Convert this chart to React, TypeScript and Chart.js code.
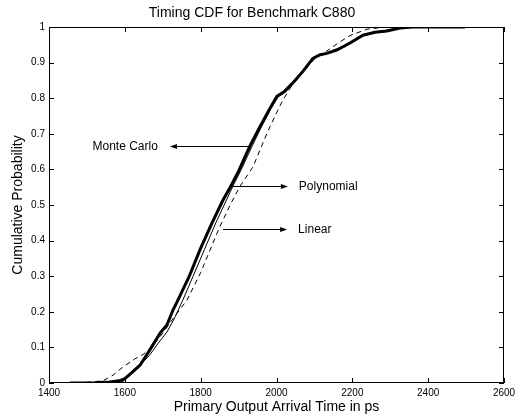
import React, { useEffect, useRef } from 'react';
import { Chart, registerables } from 'chart.js';

Chart.register(...registerables);

// ---- data ----
const mcX = [1455, 1520, 1560, 1585, 1600, 1619, 1640, 1666, 1693, 1711, 1727, 1740, 1770, 1798, 1830, 1859, 1878, 1900, 1930, 1956, 1983, 2001, 2020, 2043, 2070, 2096, 2115, 2133, 2160, 2194, 2228, 2260, 2291, 2326, 2360, 2497];
const mcY = [0, 0.001, 0.003, 0.006, 0.012, 0.03, 0.05, 0.093, 0.14, 0.163, 0.205, 0.233, 0.3, 0.374, 0.45, 0.514, 0.55, 0.595, 0.666, 0.719, 0.772, 0.805, 0.818, 0.843, 0.876, 0.912, 0.922, 0.926, 0.936, 0.955, 0.977, 0.985, 0.989, 0.997, 1, 1];

const polyX = [1460, 1560, 1595, 1609, 1622, 1645, 1666, 1688, 1711, 1730, 1753, 1780, 1810, 1840, 1868, 1885, 1905, 1936, 1960, 1986, 2005, 2024, 2046, 2072, 2098, 2115, 2133, 2160, 2194, 2228, 2260, 2291, 2326, 2360, 2497];
const polyY = [0, 0.001, 0.004, 0.017, 0.031, 0.056, 0.079, 0.112, 0.143, 0.18, 0.233, 0.3, 0.375, 0.45, 0.514, 0.553, 0.595, 0.666, 0.719, 0.772, 0.805, 0.818, 0.843, 0.876, 0.912, 0.922, 0.927, 0.937, 0.957, 0.978, 0.986, 0.991, 0.998, 1, 1];

const linX = [1450, 1500, 1542, 1569, 1595, 1627, 1648, 1670, 1700, 1730, 1764, 1800, 1848, 1880, 1904, 1938, 1975, 2001, 2017, 2040, 2070, 2100, 2136, 2167, 2194, 2239, 2290, 2497];
const linY = [0, 0.002, 0.006, 0.022, 0.045, 0.068, 0.08, 0.1, 0.14, 0.185, 0.233, 0.31, 0.433, 0.505, 0.553, 0.607, 0.702, 0.761, 0.795, 0.835, 0.873, 0.91, 0.935, 0.958, 0.976, 0.994, 1, 1];

// annotations (data units)
const noteLabels = ['Monte Carlo', 'Polynomial', 'Linear'];
const noteY = [0.666, 0.553, 0.433];
const noteTailX = [1930, 1883, 1859];
const noteHeadX = [1719, 2030, 2028];
const noteTextX = [1687, 2059, 2057];

const xTicks = [1400, 1600, 1800, 2000, 2200, 2400, 2600];
const yTicks = [0, 0.1, 0.2, 0.3, 0.4, 0.5, 0.6, 0.7, 0.8, 0.9, 1];

const FONT = "'Liberation Sans', Arial, Helvetica, sans-serif";

const toPts = (xs: number[], ys: number[]) => xs.map((x, i) => ({ x, y: ys[i] }));

const framePlugin = {
  id: 'matlabFrame',
  afterDatasetsDraw(chart: any) {
    const ctx = chart.ctx;
    const { left, right, top, bottom } = chart.chartArea;
    const xs = chart.scales.x;
    const ys = chart.scales.y;
    ctx.save();
    ctx.strokeStyle = '#000';
    ctx.lineWidth = 1;
    ctx.strokeRect(left + 0.5, top + 0.5, right - left - 1, bottom - top - 1);
    ctx.beginPath();
    const tl = 5;
    xTicks.forEach((v) => {
      const px = Math.round(xs.getPixelForValue(v)) + 0.5;
      ctx.moveTo(px, bottom);
      ctx.lineTo(px, bottom - tl);
      ctx.moveTo(px, top);
      ctx.lineTo(px, top + tl);
    });
    yTicks.forEach((v) => {
      const py = Math.round(ys.getPixelForValue(v)) + 0.5;
      ctx.moveTo(left, py);
      ctx.lineTo(left + tl, py);
      ctx.moveTo(right, py);
      ctx.lineTo(right - tl, py);
    });
    ctx.stroke();

    // annotations
    ctx.font = `12px ${FONT}`;
    ctx.fillStyle = '#000';
    ctx.textBaseline = 'middle';
    noteLabels.forEach((label, i) => {
      const py = Math.round(ys.getPixelForValue(noteY[i])) + 0.5;
      const tx = xs.getPixelForValue(noteTailX[i]);
      const hx = xs.getPixelForValue(noteHeadX[i]);
      const dir = hx > tx ? 1 : -1;
      const hl = 7;
      ctx.beginPath();
      ctx.moveTo(tx, py);
      ctx.lineTo(hx - dir * hl, py);
      ctx.stroke();
      ctx.beginPath();
      ctx.moveTo(hx, py);
      ctx.lineTo(hx - dir * hl, py - 2.5);
      ctx.lineTo(hx - dir * hl, py + 2.5);
      ctx.closePath();
      ctx.fill();
      const textX = xs.getPixelForValue(noteTextX[i]);
      ctx.textAlign = dir < 0 ? 'right' : 'left';
      ctx.fillText(label, textX, py);
    });
    ctx.restore();
  },
};

export default function App() {
  const ref = useRef<HTMLCanvasElement>(null);
  useEffect(() => {
    document.body.style.margin = '0';
    if (!ref.current) return;
    const chart = new Chart(ref.current, {
      type: 'line',
      data: {
        datasets: [
          {
            label: 'Linear',
            data: toPts(linX, linY),
            borderColor: '#000',
            borderWidth: 1,
            borderDash: [5, 4],
            pointRadius: 0,
            fill: false,
            order: 3,
          },
          {
            label: 'Polynomial',
            data: toPts(polyX, polyY),
            borderColor: '#000',
            borderWidth: 1,
            pointRadius: 0,
            fill: false,
            order: 2,
          },
          {
            label: 'Monte Carlo',
            data: toPts(mcX, mcY),
            borderColor: '#000',
            borderWidth: 3,
            pointRadius: 0,
            fill: false,
            order: 1,
          },
        ],
      },
      options: {
        animation: false,
        responsive: false,
        devicePixelRatio: 1,
        layout: { padding: { left: 0, right: 12, top: 0, bottom: 0 } },
        plugins: {
          legend: { display: false },
          tooltip: { enabled: false },
          title: {
            display: true,
            text: 'Timing CDF for Benchmark C880',
            color: '#000',
            font: { family: FONT, size: 14, weight: 'normal' },
            padding: { top: 4.6, bottom: 5.6 },
          },
        },
        scales: {
          x: {
            type: 'linear',
            min: 1400,
            max: 2600,
            grid: { display: false, drawTicks: false },
            border: { display: false },
            afterBuildTicks: (s: any) => {
              s.ticks = xTicks.map((v) => ({ value: v }));
            },
            afterFit: (s: any) => {
              s.height = 34;
              s.paddingRight = 0;
              s.paddingLeft = 0;
            },
            ticks: {
              color: '#000',
              font: { family: FONT, size: 10 },
              padding: 4,
              maxRotation: 0,
              autoSkip: false,
              callback: (v: any) => String(v),
            },
            title: {
              display: true,
              text: 'Primary Output Arrival Time in ps',
              color: '#000',
              font: { family: FONT, size: 14 },
              padding: { top: 0, bottom: 1 },
            },
          },
          y: {
            type: 'linear',
            min: 0,
            max: 1,
            grid: { display: false, drawTicks: false },
            border: { display: false },
            afterBuildTicks: (s: any) => {
              s.ticks = yTicks.map((v) => ({ value: v }));
            },
            afterFit: (s: any) => {
              s.width = 49;
              s.paddingTop = 0;
              s.paddingBottom = 0;
            },
            ticks: {
              color: '#000',
              font: { family: FONT, size: 10 },
              padding: 4,
              autoSkip: false,
              callback: (v: any) => String(Math.round(v * 10) / 10),
            },
            title: {
              display: true,
              text: 'Cumulative Probability',
              color: '#000',
              font: { family: FONT, size: 14 },
              padding: { top: 10, bottom: 0 },
            },
          },
        },
      },
      plugins: [framePlugin],
    });
    return () => chart.destroy();
  }, []);
  return (
    <div style={{ position: 'absolute', left: 0, top: 0, width: 516, height: 417 }}>
      <canvas ref={ref} width={516} height={417} style={{ width: 516, height: 417, display: 'block' }} />
    </div>
  );
}
